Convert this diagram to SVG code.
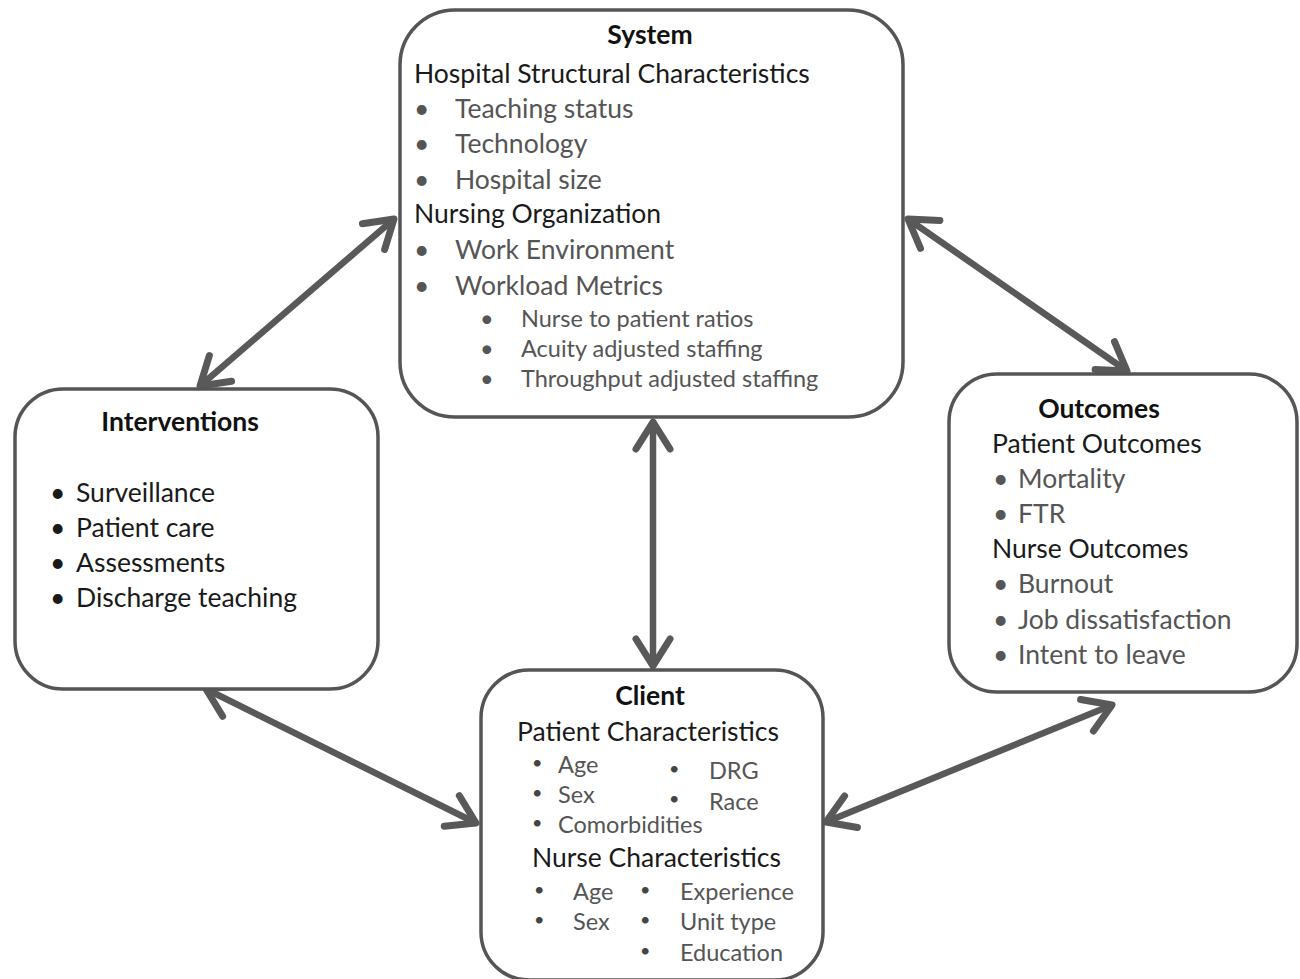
<svg xmlns="http://www.w3.org/2000/svg" width="1300" height="979" viewBox="0 0 1300 979">
<defs>
<marker id="ah" markerUnits="userSpaceOnUse" markerWidth="50" markerHeight="50" viewBox="-40 -25 50 50" refX="0" refY="0" orient="auto-start-reverse">
<path d="M-27,-17 L0,0 L-27,17" fill="none" stroke="#595959" stroke-width="7" stroke-linecap="round" stroke-linejoin="round"/>
</marker>
<style>
.box{fill:#fff;stroke:#555;stroke-width:3.5}
.t{font-family:Lato,"Liberation Sans",sans-serif}
.title{font-weight:bold;font-size:26.5px;fill:#111;text-anchor:middle}
.h{font-size:26.5px;fill:#1a1a1a}
.i{font-size:26.5px;fill:#555}
.s{font-size:23.5px;fill:#555}
.bs{font-size:18px;fill:#444}
.c{fill:none;stroke:#595959;stroke-width:6.5;marker-start:url(#ah);marker-end:url(#ah)}
</style>
</defs>
<rect width="1300" height="979" fill="#fff"/>
<g id="connectors">
<line class="c" x1="394" y1="219" x2="200" y2="386"/>
<line class="c" x1="908" y1="219" x2="1127" y2="371"/>
<line class="c" x1="653" y1="422" x2="653" y2="666"/>
<line class="c" x1="206" y1="689" x2="476" y2="823"/>
<line class="c" x1="826" y1="822" x2="1112" y2="705"/>
</g>
<g id="system" class="t">
<rect class="box" x="400" y="10" width="503" height="407" rx="55"/>
<text class="title" x="650" y="44">System</text>
<text class="h" x="414" y="83">Hospital Structural Characteristics</text>
<g class="i">
<text x="414" y="118">•</text><text x="455" y="118">Teaching status</text>
<text x="414" y="153">•</text><text x="455" y="153">Technology</text>
<text x="414" y="189">•</text><text x="455" y="189">Hospital size</text>
</g>
<text class="h" x="414" y="223">Nursing Organization</text>
<g class="i">
<text x="414" y="259">•</text><text x="455" y="259">Work Environment</text>
<text x="414" y="295">•</text><text x="455" y="295">Workload Metrics</text>
</g>
<g class="s">
<text x="480" y="327">•</text><text x="521" y="327">Nurse to patient ratios</text>
<text x="480" y="357">•</text><text x="521" y="357">Acuity adjusted staffing</text>
<text x="480" y="387">•</text><text x="521" y="387">Throughput adjusted staffing</text>
</g>
</g>
<g id="interventions" class="t">
<rect class="box" x="15" y="389" width="363" height="300" rx="48"/>
<text class="title" x="180" y="431">Interventions</text>
<g class="h">
<text x="50" y="502">•</text><text x="76" y="502">Surveillance</text>
<text x="50" y="537">•</text><text x="76" y="537">Patient care</text>
<text x="50" y="572">•</text><text x="76" y="572">Assessments</text>
<text x="50" y="607">•</text><text x="76" y="607">Discharge teaching</text>
</g>
</g>
<g id="outcomes" class="t">
<rect class="box" x="949" y="374" width="348" height="318" rx="48"/>
<text class="title" x="1099" y="418">Outcomes</text>
<text class="h" x="992" y="453">Patient Outcomes</text>
<g class="i">
<text x="993" y="488">•</text><text x="1018" y="488">Mortality</text>
<text x="993" y="523">•</text><text x="1018" y="523">FTR</text>
</g>
<text class="h" x="992" y="558">Nurse Outcomes</text>
<g class="i">
<text x="993" y="593">•</text><text x="1018" y="593">Burnout</text>
<text x="993" y="629">•</text><text x="1018" y="629">Job dissatisfaction</text>
<text x="993" y="664">•</text><text x="1018" y="664">Intent to leave</text>
</g>
</g>
<g id="client" class="t">
<rect class="box" x="481" y="670" width="342" height="310" rx="48"/>
<text class="title" x="650" y="705">Client</text>
<text class="h" x="517" y="741">Patient Characteristics</text>
<g class="s">
<text x="558" y="773">Age</text>
<text x="558" y="803">Sex</text>
<text x="558" y="833">Comorbidities</text>
<text x="709" y="779">DRG</text>
<text x="709" y="810">Race</text>
</g>
<g class="bs">
<text x="532" y="769">•</text>
<text x="532" y="799">•</text>
<text x="532" y="829">•</text>
<text x="669" y="775">•</text>
<text x="669" y="805">•</text>
</g>
<text class="h" x="532" y="867">Nurse Characteristics</text>
<g class="s">
<text x="573" y="900">Age</text>
<text x="573" y="930">Sex</text>
<text x="680" y="900">Experience</text>
<text x="680" y="930">Unit type</text>
<text x="680" y="961">Education</text>
</g>
<g class="bs">
<text x="534" y="896">•</text>
<text x="534" y="926">•</text>
<text x="640" y="896">•</text>
<text x="640" y="926">•</text>
<text x="640" y="957">•</text>
</g>
</g>
</svg>
